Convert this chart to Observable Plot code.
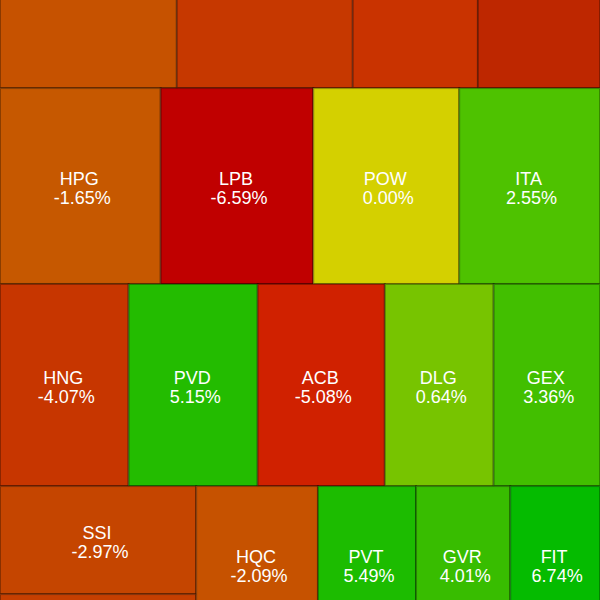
<!DOCTYPE html>
<html>
<head>
<meta charset="utf-8">
<script src="https://cdn.jsdelivr.net/npm/d3@7"></script>
<script src="https://cdn.jsdelivr.net/npm/@observablehq/plot@0.6"></script>
<style>
  html, body { margin: 0; padding: 0; background: #ffffff; }
  #chart { width: 600px; height: 600px; overflow: hidden; }
</style>
</head>
<body>
<div id="chart"></div>
<script>
// ---- Data ----
// Tickers ("" = label cropped out of the picture)
const tickers = ["", "", "", "", "HPG", "LPB", "POW", "ITA", "HNG", "PVD", "ACB", "DLG", "GEX", "SSI", "", "HQC", "PVT", "GVR", "FIT"];
// Daily change, % (cropped tiles estimated from their colour)
const changes = [-2.1, -4.0, -4.2, -5.45, -1.65, -6.59, 0.00, 2.55, -4.07, 5.15, -5.08, 0.64, 3.36, -2.97, -3.5, -2.09, 5.49, 4.01, 6.74];
// Size metric (relative weight of each tile)
const sizes = [40.7, 40.5, 28.8, 28.1, 31.5, 29.9, 28.6, 27.6, 26.0, 26.1, 25.7, 22.0, 21.5, 21.2, 9.4, 19.0, 15.3, 14.7, 14.0];
// Treemap grouping: row, then column inside the row
const rowIds = [0, 0, 0, 0, 1, 1, 1, 1, 2, 2, 2, 2, 2, 3, 3, 3, 3, 3, 3];
const colIds = [0, 1, 2, 3, 0, 1, 2, 3, 0, 1, 2, 3, 4, 0, 0, 1, 2, 3, 4];

// Colour stops for the change scale
const colorDomain = [-7, -6.5, -5.5, -5, -4, -3, -1.5, 0, 0.6, 2.5, 4, 7];
const colorRange = ["#c00000", "#c00000", "#bc2800", "#d42000", "#c63800", "#c54500", "#c65a00", "#d4d000", "#78c400", "#4fc200", "#38bd00", "#00bb00"];

// The picture is a crop of a taller treemap
const layoutW = 600, layoutH = 784, viewTop = 142, viewH = 600;

// ---- Layout ----
const data = tickers.map((t, i) => ({ticker: t, change: changes[i], size: sizes[i], row: rowIds[i], col: colIds[i]}));
const root = d3.hierarchy(d3.group(data, d => d.row, d => d.col)).sum(d => d.size || 0);
const tile = (node, x0, y0, x1, y1) =>
  (node.depth % 2 === 0 ? d3.treemapSlice : d3.treemapDice)(node, x0, y0, x1, y1);
d3.treemap().tile(tile).size([layoutW, layoutH]).paddingInner(0)(root);
const cells = root.leaves().map(n => ({...n.data, x0: n.x0, x1: n.x1, y0: n.y0, y1: n.y1}));
const labeled = cells.filter(d => d.ticker !== "");

const font = "'Liberation Sans', Arial, Helvetica, sans-serif";
const cx = d => (d.x0 + d.x1) / 2;
const cy = d => (d.y0 + d.y1) / 2;

const chart = Plot.plot({
  width: 600,
  height: 600,
  margin: 0,
  x: {domain: [0, layoutW], axis: null},
  y: {domain: [viewTop, viewTop + viewH], range: [0, 600], axis: null},
  color: {type: "linear", domain: colorDomain, range: colorRange, interpolate: "rgb"},
  style: {background: "#ffffff", fontFamily: font},
  marks: [
    Plot.rect(cells, {
      x1: "x0", x2: "x1", y1: "y0", y2: "y1",
      fill: "change",
      stroke: "black", strokeOpacity: 0.3, strokeWidth: 2,
      clip: true
    }),
    Plot.text(labeled, {
      x: cx, y: cy, text: "ticker",
      dy: -7.5, dx: -1.5,
      fill: "white", fontSize: 18, fontFamily: font, clip: true
    }),
    Plot.text(labeled, {
      x: cx, y: cy, text: d => d.change.toFixed(2) + "%",
      dy: 11.5, dx: 1.5,
      fill: "white", fontSize: 18, fontFamily: font, clip: true
    })
  ]
});
document.getElementById("chart").appendChild(chart);
</script>
</body>
</html>
